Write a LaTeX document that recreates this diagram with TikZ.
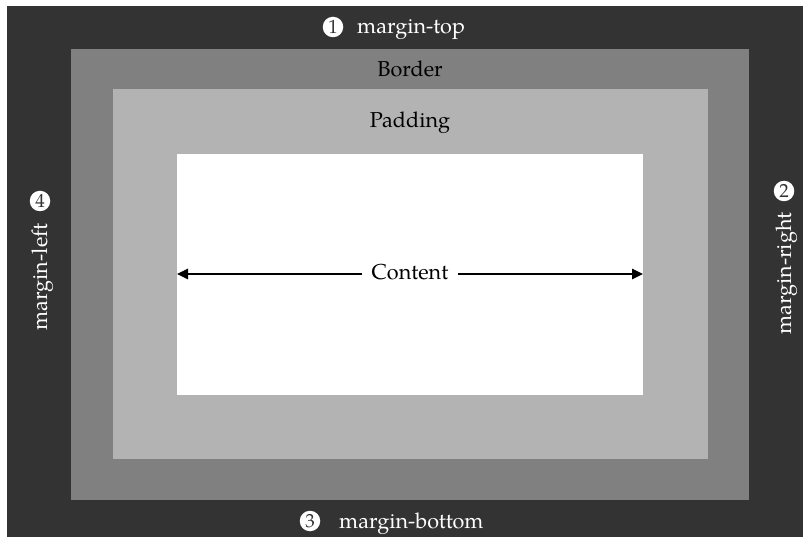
\documentclass[tikz,border=0pt]{standalone}
\usepackage{fontspec}
\setmainfont{TeX Gyre Pagella}
\usetikzlibrary{arrows.meta}
\definecolor{margc}{HTML}{333333}
\definecolor{bordc}{HTML}{808080}
\definecolor{padc}{HTML}{B3B3B3}
\tikzset{
  lbl/.style={font=\fontsize{21.6}{26}\selectfont, inner sep=0pt, anchor=base},
  wlbl/.style={lbl, text=white},
  num/.style={circle, fill=white, text=margc, inner sep=0pt, minimum size=20.5pt, font=\fontsize{19}{22}\selectfont},
  dimarrow/.style={line width=1.4pt, -{Triangle[length=11pt,width=10.5pt]}}
}
\begin{document}
\begin{tikzpicture}[x=1pt,y=-1pt]
\useasboundingbox (0,0) rectangle (803,537);
\fill[white] (0,0) rectangle (803,537);
\fill[margc] (7,6) rectangle (803,537);
\fill[bordc] (71,49) rectangle (749,500);
\fill[padc] (113,89) rectangle (708,459);
\fill[white] (177,154) rectangle (643,395);

% margin-top
\node[num] (n1) at (333,27) {1};
\node[wlbl, anchor=base west] (mt) at (357,34) {margin-top};
% margin-right
\node[num] (n2) at (784,191) {2};
\node[wlbl, rotate=90, anchor=base east] (mr) at (791,212) {margin-right};
% margin-bottom
\node[num] (n3) at (310,521) {3};
\node[wlbl, anchor=base west] (mb) at (339,528) {margin-bottom};
% margin-left
\node[num] (n4) at (40,201) {4};
\node[wlbl, rotate=90, anchor=base east] (ml) at (47,223) {margin-left};

\node[lbl] (border) at (410,77) {Border};
\node[lbl] (padding) at (410,128) {Padding};

\node[lbl, anchor=center, inner xsep=9pt] (content) at (410,272) {Content};
\coordinate (cl) at (177,274);
\coordinate (cr) at (643,274);
\draw[dimarrow] (content.west |- cl) -- (cl);
\draw[dimarrow] (content.east |- cr) -- (cr);
\end{tikzpicture}
\end{document}
